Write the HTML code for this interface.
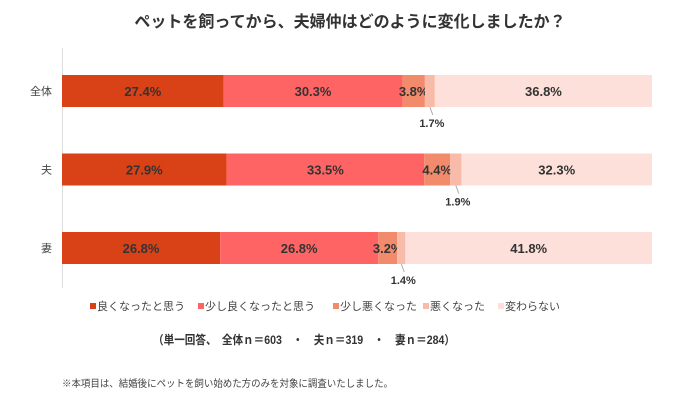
<!DOCTYPE html>
<html><head><meta charset="utf-8"><style>
body{margin:0;background:#fff;width:700px;height:400px;overflow:hidden;font-family:"Liberation Sans","Noto Sans CJK JP",sans-serif}
</style></head><body>
<svg width="700" height="400" id="svg" xmlns="http://www.w3.org/2000/svg">
<text x="350" y="27" text-anchor="middle" font-size="16" font-weight="bold" fill="#333">ペットを飼ってから、夫婦仲はどのように変化しましたか？</text>
<line x1="62.5" y1="48" x2="62.5" y2="288" stroke="#ddd"/>
<g id="bars"></g>
<g id="legend"></g>
<text x="153" y="344" font-size="12" font-weight="bold" fill="#333" textLength="302" lengthAdjust="spacingAndGlyphs" xml:space="preserve">（単一回答、　全体ｎ＝603　・　夫ｎ＝319　・　妻ｎ＝284）</text>
<text x="62" y="387" font-size="10" fill="#444" textLength="331" lengthAdjust="spacingAndGlyphs">※本項目は、結婚後にペットを飼い始めた方のみを対象に調査いたしました。</text>
</svg>
<script>
const categories=["全体","夫","妻"];
const seriesNames=["良くなったと思う","少し良くなったと思う","少し悪くなった","悪くなった","変わらない"];
const s1=[27.4,27.9,26.8];
const s2=[30.3,33.5,26.8];
const s3=[3.8,4.4,3.2];
const s4=[1.7,1.9,1.4];
const s5=[36.8,32.3,41.8];
const series=[s1,s2,s3,s4,s5];
const colors=["#d94116","#ff6464","#f28a6c","#f9bba9","#fde0d9"];
const NS="http://www.w3.org/2000/svg";
const x0=62,W=590,barH=32;
const xs=v=>v/100*W;
const yRow=i=>75+i*78.5;
const g=document.getElementById('bars');
function mk(t,a){const e=document.createElementNS(NS,t);for(const k in a)e.setAttribute(k,a[k]);return e;}
categories.forEach((c,i)=>{
  const y=yRow(i);
  const lab=mk('text',{x:52,y:y+barH/2+4,'text-anchor':'end','font-size':11,fill:'#444'});
  lab.textContent=c;
  
  
  g.appendChild(lab);
  let acc=0;
  series.forEach((s,j)=>{
    const v=s[i],x=x0+xs(acc),w=xs(v);
    const r=mk('rect',{x:x,y:y,width:w,height:barH,fill:colors[j]});
    
    
    g.appendChild(r);
    const cx=x+w/2;
    if(j===3){
      const ln=mk('line',{x1:cx,y1:y+barH,x2:cx+3,y2:y+barH+8,stroke:'#aaa'});
      
      
      g.appendChild(ln);
      const t=mk('text',{x:cx+2,y:y+barH+20,'text-anchor':'middle','font-size':11,'font-weight':'bold',fill:'#333'});
      t.textContent=v.toFixed(1)+'%';
      
      
      g.appendChild(t);
    } else {
      const t=mk('text',{x:cx,y:y+barH/2+5,'text-anchor':'middle','font-size':13,'font-weight':'bold',fill:'#333'});
      t.textContent=v.toFixed(1)+'%';
      
      
      g.appendChild(t);
    }
    acc+=v;
  });
});
const lg=document.getElementById('legend');
const lx=[90,198,333,423,498];
seriesNames.forEach((n,j)=>{
  const r=mk('rect',{x:lx[j],y:303,width:6,height:6,fill:colors[j]});
  
  
  lg.appendChild(r);
  const t=mk('text',{x:lx[j]+7,y:310,'font-size':11,fill:'#444'});
  t.textContent=n;
  
  
  lg.appendChild(t);
});
</script>
</body></html>
